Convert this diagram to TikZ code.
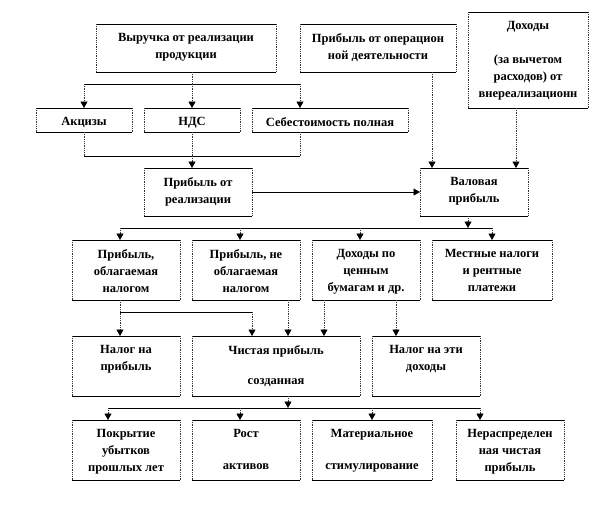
\documentclass[tikz,border=0pt]{standalone}
\usepackage{fontspec}
\setmainfont{Liberation Serif}
\usetikzlibrary{arrows.meta}
\tikzset{
  hl/.style={draw=black, line width=0.9pt},
  vl/.style={draw=black!80, line width=0.9pt, dash pattern=on 0.9pt off 0.9pt},
  arr/.style={-{Triangle[width=7pt,length=6.5pt,color=black]}},
  box/.style={rectangle, inner sep=0pt, outer sep=0pt,
    append after command={
      (\tikzlastnode.north west) edge[hl] (\tikzlastnode.north east)
      (\tikzlastnode.south west) edge[hl] (\tikzlastnode.south east)
      (\tikzlastnode.north west) edge[vl] (\tikzlastnode.south west)
      (\tikzlastnode.north east) edge[vl] (\tikzlastnode.south east)}},
  txt/.style={inner sep=0pt, align=center, anchor=north,
    font=\fontsize{12.5}{17}\selectfont\bfseries}
}
\newcommand\mybox[6]{%
  \node[box, minimum width={#4-#2}, minimum height={#5-#3}] (#1)
    at ({(#2+#4)/2},{(#3+#5)/2}) {};
  \node[txt] (#1t) at ([yshift=-9pt]#1.north) {#6};
}
\begin{document}
\begin{tikzpicture}[x=1pt,y=-1pt]
\useasboundingbox (0,0) rectangle (600,504);
% boxes
\mybox{v}{96}{24}{276}{72}{Выручка от реализации\\продукции}
\mybox{op}{300}{24}{456}{72}{Прибыль от операцион\\ной деятельности}
\mybox{dox}{468}{12}{588}{108}{Доходы\\[17pt](за вычетом\\расходов) от\\внереализационн}
\mybox{akc}{36}{108}{132}{132}{Акцизы}
\mybox{nds}{144}{108}{240}{132}{НДС}
\mybox{seb}{252}{108}{408}{132}{Себестоимость полная}
\mybox{pr}{144}{168}{252}{216}{Прибыль от\\реализации}
\mybox{val}{420}{168}{528}{216}{Валовая\\прибыль}
\mybox{ra}{72}{240}{180}{300}{Прибыль,\\облагаемая\\налогом}
\mybox{rb}{192}{240}{300}{300}{Прибыль, не\\облагаемая\\налогом}
\mybox{rc}{312}{240}{420}{300}{Доходы по\\ценным\\бумагам и др.}
\mybox{rd}{432}{240}{552}{300}{Местные налоги\\и рентные\\платежи}
\mybox{n1}{72}{336}{180}{396}{Налог на\\прибыль}
\mybox{ch}{192}{336}{360}{396}{Чистая прибыль\\[13pt]созданная}
\mybox{n2}{372}{336}{480}{396}{Налог на эти\\доходы}
\mybox{e1}{72}{420}{180}{480}{Покрытие\\убытков\\прошлых лет}
\mybox{e2}{192}{420}{300}{480}{Рост\\[15pt]активов}
\mybox{e3}{312}{420}{432}{480}{Материальное\\[15pt]стимулирование}
\mybox{e4}{456}{420}{564}{480}{Нераспределен\\ная чистая\\прибыль}
% revenue -> row 2
\coordinate (t0) at (192,84); \coordinate (tL) at (84,84); \coordinate (tR) at (300,84);
\draw[vl] (t0 |- v.south) -- (t0);
\draw[hl] (tL) -- (tR);
\draw[vl,arr] (tL) -- (tL |- akc.north);
\draw[vl,arr] (t0) -- (t0 |- nds.north);
\draw[vl,arr] (tR) -- (tR |- seb.north);
% row 2 -> profit from sales
\coordinate (m0) at (192,156); \coordinate (mL) at (84,156); \coordinate (mR) at (300,156);
\draw[vl] (mL |- akc.south) -- (mL);
\draw[vl] (m0 |- nds.south) -- (m0);
\draw[vl] (mR |- seb.south) -- (mR);
\draw[hl] (mL) -- (mR);
\draw[vl,arr] (m0) -- (m0 |- pr.north);
% -> gross profit
\draw[hl,arr] (pr.east) -- (val.west);
\coordinate (o1) at (432,120); \coordinate (o2) at (516,140);
\draw[vl,arr] (o1 |- op.south) -- (o1 |- val.north);
\draw[vl,arr] (o2 |- dox.south) -- (o2 |- val.north);
% gross profit -> row 3
\coordinate (g0) at (468,228); \coordinate (gL) at (120,228); \coordinate (g2) at (240,228);
\coordinate (g3) at (360,228); \coordinate (gR) at (492,228);
\draw[vl,arr] (g0 |- val.south) -- (g0);
\draw[hl] (gL) -- (gR);
\draw[vl,arr] (gL) -- (gL |- ra.north);
\draw[vl,arr] (g2) -- (g2 |- rb.north);
\draw[vl,arr] (g3) -- (g3 |- rc.north);
\draw[vl,arr] (gR) -- (gR |- rd.north);
% row 3 -> row 4
\coordinate (h0) at (120,312); \coordinate (h1) at (252,312);
\coordinate (k1) at (288,312); \coordinate (k2) at (324,312); \coordinate (k3) at (396,312);
\draw[vl,arr] (h0 |- ra.south) -- (h0 |- n1.north);
\draw[hl] (h0) -- (h1);
\draw[vl,arr] (h1) -- (h1 |- ch.north);
\draw[vl,arr] (k1 |- rb.south) -- (k1 |- ch.north);
\draw[vl,arr] (k2 |- rc.south) -- (k2 |- ch.north);
\draw[vl,arr] (k3 |- rc.south) -- (k3 |- n2.north);
% net profit -> row 5
\coordinate (f0) at (288,408); \coordinate (fL) at (108,408); \coordinate (f2) at (240,408);
\coordinate (f3) at (372,408); \coordinate (fR) at (480,408);
\draw[vl,arr] (f0 |- ch.south) -- (f0);
\draw[hl] (fL) -- (fR);
\draw[vl,arr] (fL) -- (fL |- e1.north);
\draw[vl,arr] (f2) -- (f2 |- e2.north);
\draw[vl,arr] (f3) -- (f3 |- e3.north);
\draw[vl,arr] (fR) -- (fR |- e4.north);
\end{tikzpicture}
\end{document}
